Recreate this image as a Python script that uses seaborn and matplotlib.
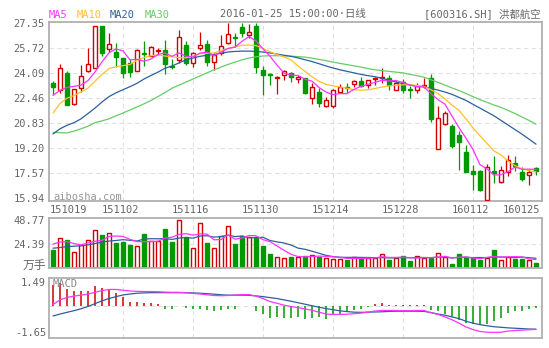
import numpy as np
import pandas as pd
import matplotlib
matplotlib.use('Agg')
import matplotlib.pyplot as plt
import seaborn as sns

# ---- data ----
dates = ['151019', '151102', '151116', '151130', '151214', '151228', '160112', '160125']
date_pos = [0, 10, 20, 30, 40, 50, 60, 69]

opens = [23.46, 22.98, 24.11, 22.05, 23.09, 24.24, 24.40, 27.15, 25.65, 25.44,
         25.05, 24.76, 24.24, 25.41, 25.22, 25.52, 25.59, 24.57, 24.94, 25.92,
         24.72, 25.70, 25.98, 24.83, 25.37, 26.03, 26.42, 27.11, 26.57, 27.15,
         24.31, 24.01, 23.76, 23.94, 24.09, 23.72, 23.77, 22.46, 22.85, 21.96,
         21.96, 22.83, 23.18, 23.40, 23.55, 23.33, 23.70, 23.76, 23.77, 23.00,
         23.48, 23.03, 23.00, 23.22, 23.76, 19.16, 20.77, 20.66, 20.07, 18.94,
         17.73, 17.73, 15.83, 17.73, 16.96, 17.64, 18.23, 17.64, 17.42, 17.90]
highs = [23.57, 24.68, 24.22, 23.08, 24.61, 25.70, 27.15, 27.15, 26.68, 26.02,
         25.10, 24.98, 25.63, 26.20, 25.85, 25.70, 26.24, 24.98, 26.89, 26.18,
         25.48, 26.78, 26.24, 25.37, 26.57, 27.33, 26.72, 27.33, 27.28, 27.33,
         24.53, 24.06, 23.91, 24.27, 24.15, 23.94, 23.78, 23.44, 23.11, 22.53,
         23.05, 23.37, 23.44, 23.66, 23.81, 23.66, 23.81, 24.42, 23.94, 23.55,
         23.70, 23.22, 23.44, 23.76, 24.03, 21.96, 21.59, 20.77, 20.29, 19.42,
         18.12, 17.79, 18.16, 18.66, 18.01, 18.77, 18.66, 17.94, 17.85, 17.94]
lows = [22.66, 22.81, 21.98, 21.98, 22.83, 24.13, 24.40, 25.20, 25.44, 24.50,
        23.74, 23.81, 24.22, 24.55, 25.20, 25.26, 24.02, 24.35, 24.72, 24.61,
        24.50, 25.59, 24.57, 24.29, 25.26, 25.96, 25.81, 26.46, 26.35, 24.07,
        22.64, 23.33, 22.74, 23.65, 23.48, 23.44, 22.72, 22.07, 21.88, 21.85,
        21.81, 22.79, 22.79, 23.18, 23.16, 23.11, 23.33, 23.44, 23.00, 22.96,
        22.79, 22.46, 22.79, 23.11, 20.90, 19.16, 20.68, 19.20, 17.79, 17.64,
        16.49, 16.42, 15.77, 16.92, 16.92, 17.35, 17.68, 17.03, 16.81, 17.46]
closes = [23.16, 24.40, 22.00, 23.03, 23.91, 24.66, 27.15, 25.37, 25.96, 25.15,
          24.07, 24.18, 25.59, 25.33, 25.81, 25.59, 24.66, 24.50, 26.42, 24.72,
          25.41, 25.92, 24.79, 25.26, 25.87, 26.61, 26.35, 26.72, 26.78, 24.50,
          23.98, 23.96, 23.83, 24.20, 23.81, 23.83, 22.79, 23.18, 22.14, 22.31,
          22.96, 23.16, 23.11, 23.59, 23.27, 23.66, 23.77, 23.81, 23.33, 23.44,
          23.00, 22.98, 23.22, 23.33, 21.11, 21.16, 21.48, 19.31, 19.59, 17.64,
          17.53, 16.49, 17.94, 17.57, 17.79, 18.44, 18.05, 17.20, 17.64, 17.68]

ma5 = [22.64, 22.95, 23.15, 23.22, 23.30, 23.60, 24.15, 24.82, 25.41, 25.66,
       25.54, 24.95, 24.99, 24.86, 25.00, 25.30, 25.40, 25.18, 25.40, 25.18,
       25.14, 25.39, 25.45, 25.22, 25.45, 25.69, 25.78, 26.16, 26.47, 26.19,
       25.67, 25.19, 24.61, 24.09, 23.96, 23.93, 23.69, 23.56, 23.15, 22.85,
       22.68, 22.75, 22.74, 23.03, 23.22, 23.36, 23.48, 23.62, 23.57, 23.60,
       23.47, 23.31, 23.19, 23.19, 22.73, 22.36, 22.06, 21.28, 20.53, 19.84,
       19.11, 18.11, 17.84, 17.43, 17.46, 17.65, 17.96, 17.81, 17.82, 17.80]
ma10 = [21.48, 22.10, 22.45, 22.62, 22.85, 23.10, 23.55, 24.00, 24.38, 24.50,
        24.57, 24.65, 24.92, 25.10, 25.22, 25.28, 25.20, 25.15, 25.10, 25.08,
        25.20, 25.35, 25.38, 25.40, 25.55, 25.70, 25.80, 25.90, 25.92, 25.88,
        25.70, 25.48, 25.30, 25.15, 24.95, 24.55, 24.20, 23.85, 23.55, 23.35,
        23.25, 23.18, 23.10, 23.00, 22.97, 23.00, 23.08, 23.18, 23.25, 23.30,
        23.32, 23.33, 23.28, 23.22, 23.00, 22.75, 22.40, 22.00, 21.65, 21.10,
        20.50, 20.00, 19.50, 19.00, 18.75, 18.35, 18.05, 17.85, 17.72, 17.64]
ma20 = [20.11, 20.45, 20.68, 20.85, 21.10, 21.45, 21.80, 22.20, 22.55, 22.80,
        23.00, 23.20, 23.42, 23.70, 23.93, 24.15, 24.40, 24.55, 24.75, 24.95,
        25.07, 25.18, 25.25, 25.30, 25.38, 25.46, 25.50, 25.52, 25.52, 25.50,
        25.46, 25.40, 25.33, 25.25, 25.18, 25.08, 24.96, 24.84, 24.70, 24.55,
        24.42, 24.30, 24.20, 24.10, 24.00, 23.92, 23.85, 23.75, 23.62, 23.50,
        23.40, 23.30, 23.25, 23.18, 23.08, 22.98, 22.85, 22.70, 22.50, 22.30,
        22.05, 21.80, 21.55, 21.30, 21.00, 20.70, 20.40, 20.10, 19.78, 19.45]
ma30 = [20.22, 20.20, 20.18, 20.30, 20.45, 20.62, 20.85, 20.97, 21.10, 21.30,
        21.48, 21.68, 21.88, 22.08, 22.30, 22.55, 22.82, 23.10, 23.30, 23.50,
        23.70, 23.90, 24.10, 24.30, 24.48, 24.65, 24.80, 24.95, 25.07, 25.15,
        25.20, 25.22, 25.22, 25.21, 25.19, 25.16, 25.13, 25.06, 24.98, 24.90,
        24.80, 24.72, 24.64, 24.56, 24.48, 24.38, 24.30, 24.25, 24.20, 24.15,
        24.10, 24.00, 23.92, 23.82, 23.65, 23.48, 23.30, 23.12, 22.95, 22.75,
        22.55, 22.35, 22.18, 22.00, 21.85, 21.65, 21.45, 21.22, 21.00, 20.75]

volume = [18.6, 30.5, 28.8, 16.3, 23.7, 28.8, 38.9, 33.8, 35.5, 26.0,
          27.0, 23.7, 22.7, 34.8, 27.7, 27.7, 39.9, 27.0, 48.77, 31.5,
          20.3, 45.7, 26.0, 20.3, 32.8, 43.0, 24.7, 32.8, 32.1, 32.1,
          23.0, 14.5, 11.2, 10.2, 11.8, 11.8, 12.5, 13.5, 11.8, 10.8,
          9.4, 9.4, 8.4, 11.8, 10.8, 10.8, 10.8, 14.2, 8.4, 10.8,
          12.5, 7.4, 12.5, 10.8, 10.2, 15.2, 11.8, 4.4, 14.5, 11.2,
          10.2, 8.4, 10.8, 18.6, 8.4, 11.8, 9.4, 9.4, 8.4, 5.7]
vol_ma5 = [24.4, 26.5, 27.0, 25.0, 23.6, 25.6, 27.3, 28.3, 32.1, 32.6,
           32.2, 29.2, 27.0, 26.8, 27.2, 27.3, 30.6, 31.4, 34.2, 35.0,
           33.5, 34.7, 34.5, 28.8, 29.0, 33.6, 29.4, 30.7, 33.1, 32.9,
           28.9, 26.9, 22.6, 18.2, 14.1, 11.9, 11.5, 12.0, 12.3, 12.1,
           11.6, 11.0, 10.0, 10.0, 10.0, 10.2, 10.5, 11.7, 11.0, 11.0,
           11.3, 10.7, 10.3, 10.8, 10.7, 11.2, 12.1, 10.5, 11.2, 11.4,
           10.4, 9.7, 11.0, 11.8, 11.3, 11.6, 11.8, 11.5, 9.5, 8.9]
vol_ma10 = [20.3, 21.0, 21.9, 22.3, 22.8, 23.7, 25.0, 26.5, 27.5, 28.1,
            28.9, 28.3, 27.6, 29.5, 29.9, 29.8, 29.9, 29.2, 30.5, 31.1,
            30.4, 32.6, 32.9, 31.5, 32.0, 33.5, 32.0, 32.6, 30.9, 31.0,
            31.3, 28.1, 26.7, 25.6, 23.5, 20.4, 19.2, 17.3, 15.2, 13.1,
            11.8, 11.2, 11.0, 11.1, 11.0, 10.9, 10.8, 10.8, 10.5, 10.5,
            10.8, 10.6, 11.0, 10.9, 10.8, 11.3, 11.4, 10.4, 11.0, 11.1,
            10.8, 10.9, 10.8, 11.5, 11.4, 11.0, 10.8, 11.3, 10.7, 10.1]

macd_bar = [1.15, 1.23, 0.90, 0.84, 0.83, 0.83, 1.08, 0.98, 0.87, 0.72,
            0.48, 0.26, 0.22, 0.17, 0.17, 0.13, -0.11, -0.12, 0.05, -0.10,
            -0.15, -0.12, -0.21, -0.26, -0.21, -0.14, -0.12, 0.05, 0.05, -0.22,
            -0.42, -0.60, -0.55, -0.62, -0.60, -0.55, -0.64, -0.60, -0.58, -0.67,
            -0.46, -0.39, -0.30, -0.21, -0.12, -0.05, 0.14, 0.19, 0.10, 0.10,
            0.07, 0.06, 0.06, 0.07, -0.19, -0.26, -0.41, -0.58, -0.70, -0.85,
            -0.94, -1.00, -0.90, -0.78, -0.63, -0.37, -0.25, -0.23, -0.14, -0.06]
dif = [0.10, 0.35, 0.48, 0.55, 0.60, 0.65, 0.75, 0.84, 0.90, 0.90,
       0.86, 0.82, 0.80, 0.79, 0.79, 0.78, 0.76, 0.75, 0.75, 0.72,
       0.69, 0.66, 0.62, 0.58, 0.57, 0.58, 0.60, 0.63, 0.63, 0.55,
       0.42, 0.26, 0.17, 0.07, 0.00, -0.06, -0.13, -0.20, -0.30, -0.40,
       -0.42, -0.42, -0.41, -0.38, -0.35, -0.30, -0.24, -0.21, -0.21, -0.21,
       -0.22, -0.22, -0.21, -0.21, -0.33, -0.42, -0.55, -0.70, -0.88, -1.08,
       -1.22, -1.32, -1.36, -1.37, -1.36, -1.30, -1.27, -1.25, -1.23, -1.21]
dea = [-0.50, -0.40, -0.31, -0.22, -0.12, 0.00, 0.15, 0.30, 0.42, 0.52,
       0.61, 0.66, 0.70, 0.72, 0.73, 0.73, 0.73, 0.73, 0.73, 0.73,
       0.72, 0.70, 0.68, 0.65, 0.62, 0.60, 0.60, 0.60, 0.59, 0.56,
       0.52, 0.47, 0.42, 0.35, 0.28, 0.20, 0.12, 0.04, -0.04, -0.11,
       -0.17, -0.23, -0.27, -0.30, -0.31, -0.30, -0.29, -0.28, -0.26, -0.25,
       -0.25, -0.25, -0.25, -0.26, -0.32, -0.40, -0.46, -0.55, -0.64, -0.78,
       -0.88, -0.96, -1.02, -1.07, -1.10, -1.13, -1.15, -1.17, -1.19, -1.20]

price_ticks = [27.35, 25.72, 24.09, 22.46, 20.83, 19.20, 17.57, 15.94]
vol_ticks = [24.39, 48.77]
macd_ticks = [1.49, -1.65]

# ---- style ----
RED = '#d00000'
GREEN = '#009900'
C_MA5 = '#ff33ff'
C_MA10 = '#ffc125'
C_MA20 = '#2e5f9c'
C_MA30 = '#66cc66'
TXT = '#666666'
GRID = '#e0e0e0'

sns.set_style('white')
plt.rcParams['font.family'] = ['DejaVu Sans Mono', 'Noto Sans CJK SC']
plt.rcParams['font.size'] = 7.5

W, H = 549, 348
fig = plt.figure(figsize=(W / 100, H / 100), dpi=100)


def box(l, t, r, b):
    return [l / W, 1 - b / H, (r - l) / W, (b - t) / H]


ax_k = fig.add_axes(box(49, 22, 541.5, 201))
ax_v = fig.add_axes(box(49, 218, 541.5, 268.3))
ax_m = fig.add_axes(box(49, 278.3, 541.5, 337.7))

x = np.arange(len(closes))
o = np.array(opens)
c = np.array(closes)
up = c >= o
col = np.where(up, RED, GREEN)
face = np.where(up, 'white', GREEN)

df = pd.DataFrame({'i': x, 'MA5': ma5, 'MA10': ma10, 'MA20': ma20, 'MA30': ma30,
                   'vma5': vol_ma5, 'vma10': vol_ma10, 'DIF': dif, 'DEA': dea})

grid_idx = date_pos[1:-1]
dash = (0, (4, 3))


def frame(ax):
    for s in ax.spines.values():
        s.set_color('#b0b0b0')
        s.set_linewidth(1.3)
    ax.set_xticks([])
    ax.set_xlim(-0.57, 69.79)
    ax.set_xlabel('')
    ax.set_ylabel('')
    for i in grid_idx:
        ax.axvline(i, color=GRID, lw=0.8, ls=dash, zorder=0)


# ---- candles ----
ax_k.vlines(x, lows, highs, colors=col, lw=0.9, zorder=2)
ax_k.bar(x, np.abs(c - o), bottom=np.minimum(o, c), width=0.58,
         color=face, edgecolor=col, linewidth=1.0, zorder=3)
for name, color in [('MA30', C_MA30), ('MA20', C_MA20), ('MA10', C_MA10), ('MA5', C_MA5)]:
    sns.lineplot(data=df, x='i', y=name, ax=ax_k, color=color, lw=0.9, zorder=4)
ax_k.set_ylim(15.74, 27.42)
for v in price_ticks[1:-1]:
    ax_k.axhline(v, color=GRID, lw=0.8, ls=dash, zorder=0)
ax_k.set_yticks(price_ticks)
ax_k.set_yticklabels([f'{v:.2f}' for v in price_ticks])
ax_k.tick_params(axis='y', length=0, pad=3, labelsize=7.5, labelcolor=TXT)
frame(ax_k)
ax_k.text(0.008, 0.022, 'aibosha.com', transform=ax_k.transAxes, color='#999999',
          fontsize=7.5, va='center', ha='left')

# date labels under the price panel
for pos, lab in zip(date_pos, dates):
    if pos == date_pos[0]:
        ax_k.text(0.002, -0.05, lab, transform=ax_k.transAxes, ha='left', va='center', color=TXT)
    elif pos == date_pos[-1]:
        ax_k.text(0.998, -0.05, lab, transform=ax_k.transAxes, ha='right', va='center', color=TXT)
    else:
        ax_k.text(pos - 0.3, -0.05, lab, transform=ax_k.get_xaxis_transform(),
                  ha='center', va='center', color=TXT)

# ---- volume ----
ax_v.bar(x, volume, width=0.58, color=face, edgecolor=col, linewidth=1.0, zorder=2)
sns.lineplot(data=df, x='i', y='vma10', ax=ax_v, color=C_MA20, lw=0.9, zorder=3)
sns.lineplot(data=df, x='i', y='vma5', ax=ax_v, color=C_MA5, lw=0.9, zorder=3)
ax_v.set_ylim(0, 50.8)
ax_v.axhline(vol_ticks[0], color=GRID, lw=0.8, ls=dash, zorder=0)
ax_v.set_yticks(vol_ticks)
ax_v.set_yticklabels([f'{v:.2f}' for v in vol_ticks])
ax_v.tick_params(axis='y', length=0, pad=3, labelsize=7.5, labelcolor=TXT)
frame(ax_v)
fig.text(46 / W, 1 - 266 / H, '万手', ha='right', va='center', color=TXT,
         fontsize=8.5, family=['Noto Sans CJK SC', 'DejaVu Sans'])

# ---- MACD ----
mb = np.array(macd_bar)
ax_m.vlines(x, 0, mb, colors=np.where(mb > 0, RED, GREEN), lw=1.1, zorder=2)
sns.lineplot(data=df, x='i', y='DEA', ax=ax_m, color=C_MA20, lw=0.9, zorder=3)
sns.lineplot(data=df, x='i', y='DIF', ax=ax_m, color=C_MA5, lw=0.9, zorder=3)
ax_m.set_ylim(macd_ticks[1], macd_ticks[0])
ax_m.axhline(0, color=GRID, lw=0.8, ls=dash, zorder=0)
ax_m.set_yticks([])
frame(ax_m)
tr = ax_m.get_yaxis_transform()
ax_m.text(-0.006, macd_ticks[0], f'{macd_ticks[0]:.2f}', transform=tr, ha='right', va='top', color=TXT)
ax_m.text(-0.006, macd_ticks[1], f'{macd_ticks[1]:.2f}', transform=tr, ha='right', va='bottom', color=TXT)
ax_m.text(0.008, 0.985, 'MACD', transform=ax_m.transAxes, ha='left', va='top', color='#888888')

# ---- header ----
for lab, color, px in [('MA5', C_MA5, 49), ('MA10', C_MA10, 77), ('MA20', C_MA20, 110), ('MA30', C_MA30, 145)]:
    fig.text(px / W, 1 - 14.5 / H, lab, color=color, ha='left', va='center', fontsize=7.5)
fig.text(220 / W, 1 - 14.5 / H, '2016-01-25 15:00:00·日线', color=TXT, ha='left', va='center', fontsize=7.5)
fig.text(540 / W, 1 - 14.5 / H, '[600316.SH] 洪都航空', color=TXT, ha='right', va='center', fontsize=7.5)

fig.savefig('out.png', dpi=100, facecolor='white')
